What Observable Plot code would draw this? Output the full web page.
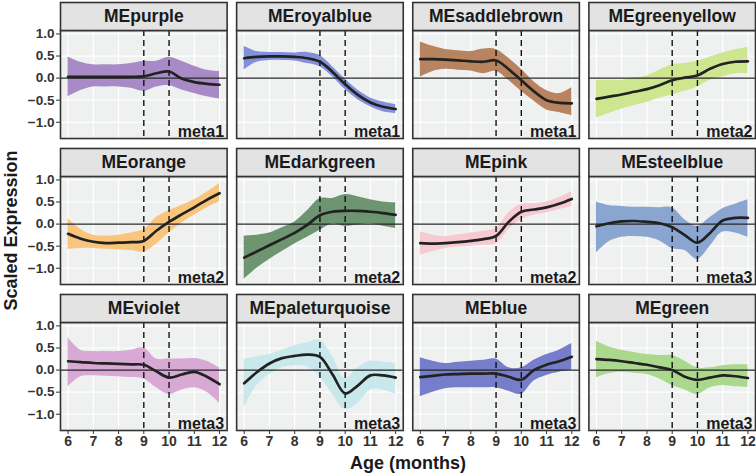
<!DOCTYPE html>
<html>
<head>
<meta charset="utf-8">
<script src="https://cdn.jsdelivr.net/npm/d3@7"></script>
<script src="https://cdn.jsdelivr.net/npm/@observablehq/plot@0.6"></script>
<style>
  html, body { margin: 0; padding: 0; background: #ffffff; }
  #chart svg { display: block; }
</style>
</head>
<body>
<div id="chart"></div>
<script>
// ---------------- data ----------------
const modules = ["MEpurple","MEroyalblue","MEsaddlebrown","MEgreenyellow",
                 "MEorange","MEdarkgreen","MEpink","MEsteelblue",
                 "MEviolet","MEpaleturquoise","MEblue","MEgreen"];
const metas = ["meta1","meta1","meta1","meta2",
               "meta2","meta2","meta2","meta3",
               "meta3","meta3","meta3","meta3"];
const ribbonColors = ["#a88bc6","#8290dc","#b8835f","#cde68f",
                      "#f9c47c","#6e9571","#f6c9d3","#89a5d0",
                      "#d9a9d5","#c8e8ec","#767dca","#aad88d"];
const ages = [6,6.5,7,7.5,8,8.5,9,9.5,10,10.5,11,11.5,12];
const xTicks = [6,7,8,9,10,11,12];
const yTicks = [-1,-0.5,0,0.5,1];
const milestones = [9,10];

const fitValues = [
  [0.03,0.03,0.03,0.03,0.03,0.03,0.04,0.11,0.15,-0.01,-0.09,-0.13,-0.15],
  [0.45,0.48,0.49,0.49,0.48,0.45,0.37,0.14,-0.14,-0.38,-0.55,-0.65,-0.70],
  [0.43,0.43,0.42,0.40,0.38,0.37,0.40,0.20,-0.05,-0.30,-0.50,-0.56,-0.57],
  [-0.47,-0.42,-0.37,-0.31,-0.25,-0.16,-0.05,0.01,0.06,0.21,0.32,0.37,0.38],
  [-0.22,-0.33,-0.40,-0.43,-0.42,-0.41,-0.38,-0.15,0.05,0.22,0.38,0.55,0.70],
  [-0.76,-0.62,-0.48,-0.34,-0.20,-0.02,0.20,0.28,0.30,0.30,0.28,0.25,0.21],
  [-0.43,-0.44,-0.43,-0.41,-0.38,-0.34,-0.27,0.05,0.28,0.33,0.38,0.46,0.57],
  [-0.05,0.02,0.06,0.07,0.05,0.02,-0.07,-0.25,-0.42,-0.20,0.08,0.14,0.14],
  [0.20,0.18,0.16,0.15,0.14,0.13,0.12,-0.03,-0.17,-0.10,-0.04,-0.15,-0.32],
  [-0.30,-0.05,0.15,0.27,0.32,0.35,0.30,-0.10,-0.53,-0.35,-0.12,-0.12,-0.17],
  [-0.16,-0.13,-0.10,-0.09,-0.08,-0.08,-0.08,-0.15,-0.22,0.00,0.12,0.20,0.30],
  [0.25,0.23,0.20,0.16,0.12,0.06,0.00,-0.15,-0.22,-0.17,-0.12,-0.14,-0.18]
];
const lowerValues = [
  [-0.42,-0.28,-0.20,-0.20,-0.20,-0.23,-0.30,-0.20,-0.17,-0.27,-0.35,-0.42,-0.47],
  [0.18,0.36,0.40,0.40,0.39,0.33,0.26,0.03,-0.26,-0.49,-0.65,-0.76,-0.80],
  [0.02,0.15,0.20,0.18,0.16,0.10,0.15,-0.05,-0.30,-0.52,-0.72,-0.78,-0.85],
  [-0.90,-0.80,-0.70,-0.62,-0.55,-0.45,-0.38,-0.30,-0.20,-0.05,0.03,0.10,0.10],
  [-0.57,-0.55,-0.55,-0.57,-0.58,-0.60,-0.63,-0.45,-0.20,0.02,0.20,0.37,0.50],
  [-1.25,-1.00,-0.80,-0.62,-0.45,-0.30,-0.14,0.00,-0.05,-0.02,0.00,-0.05,-0.10],
  [-0.70,-0.62,-0.55,-0.52,-0.50,-0.48,-0.45,-0.12,0.10,0.20,0.25,0.33,0.40],
  [-0.65,-0.40,-0.30,-0.28,-0.30,-0.38,-0.55,-0.60,-0.80,-0.50,-0.18,-0.20,-0.30],
  [-0.38,-0.15,-0.13,-0.14,-0.15,-0.17,-0.20,-0.40,-0.55,-0.45,-0.40,-0.50,-0.75],
  [-0.85,-0.35,-0.10,0.05,0.10,0.07,-0.15,-0.55,-0.90,-0.75,-0.45,-0.45,-0.55],
  [-0.60,-0.50,-0.42,-0.40,-0.40,-0.40,-0.40,-0.48,-0.55,-0.25,-0.12,-0.05,0.00],
  [-0.18,-0.08,-0.05,-0.07,-0.10,-0.20,-0.35,-0.45,-0.55,-0.40,-0.35,-0.38,-0.40]
];
const upperValues = [
  [0.48,0.36,0.30,0.30,0.30,0.33,0.38,0.38,0.47,0.38,0.27,0.18,0.15],
  [0.72,0.60,0.58,0.58,0.57,0.58,0.51,0.26,-0.02,-0.27,-0.45,-0.54,-0.60],
  [0.82,0.72,0.65,0.62,0.60,0.66,0.65,0.45,0.20,-0.08,-0.28,-0.35,-0.22],
  [-0.05,-0.05,-0.05,0.00,0.05,0.18,0.30,0.33,0.38,0.48,0.57,0.64,0.70],
  [0.12,-0.12,-0.25,-0.27,-0.25,-0.20,-0.13,0.15,0.30,0.42,0.55,0.72,0.92],
  [-0.27,-0.25,-0.20,-0.08,0.05,0.30,0.58,0.58,0.67,0.62,0.55,0.50,0.48],
  [-0.18,-0.25,-0.28,-0.24,-0.20,-0.16,-0.10,0.25,0.45,0.46,0.50,0.60,0.74],
  [0.50,0.42,0.40,0.38,0.38,0.37,0.37,0.10,-0.05,0.15,0.35,0.45,0.55],
  [0.73,0.45,0.42,0.42,0.42,0.45,0.50,0.25,0.25,0.25,0.26,0.20,0.05],
  [0.25,0.30,0.35,0.45,0.55,0.62,0.68,0.30,-0.20,0.05,0.20,0.18,0.15],
  [0.28,0.20,0.15,0.18,0.20,0.22,0.25,0.05,0.05,0.22,0.35,0.45,0.60],
  [0.65,0.52,0.45,0.40,0.35,0.33,0.33,0.20,0.05,0.05,0.10,0.12,0.12]
];

// ---------------- tables ----------------
const panels = modules.map((m, i) => ({
  module: m, meta: metas[i], color: ribbonColors[i], col: i % 4, row: Math.floor(i / 4)
}));
const rows = panels.flatMap((p, i) => ages.map((a, j) => ({
  ...p, age: a, fit: fitValues[i][j], lo: lowerValues[i][j], hi: upperValues[i][j]
})));

// ---------------- layout ----------------
const W = 756, H = 474;
const mTop = 30, mBottom = 44, mLeft = 60, mRight = 1;
const fxPad = 0.054, fyPad = 0.26;
const stripH = 28;
const bandH = (H - mTop - mBottom) / (3 - fyPad) * (1 - fyPad);
const bold = "bold";
const ink = "#333333";

const chart = Plot.plot({
  width: W, height: H,
  marginTop: mTop, marginBottom: mBottom, marginLeft: mLeft, marginRight: mRight,
  style: {fontFamily: "'Liberation Sans', Arial, Helvetica, sans-serif", fontSize: "13px", color: ink, background: "#ffffff"},
  x: {domain: [5.7, 12.3]},
  y: {domain: [-1.368, 1.078]},
  fx: {axis: null, paddingInner: fxPad, paddingOuter: 0, round: false},
  fy: {axis: null, paddingInner: fyPad, paddingOuter: 0, round: false},
  color: {type: "identity"},
  marks: [
    Plot.frame({fill: "#eff0f0", stroke: "none"}),
    Plot.gridX({ticks: xTicks, stroke: "#ffffff", strokeOpacity: 1, strokeWidth: 1.2}),
    Plot.gridY({ticks: yTicks, stroke: "#ffffff", strokeOpacity: 1, strokeWidth: 1.2}),
    Plot.areaY(rows, {x: "age", y1: "lo", y2: "hi", fx: "col", fy: "row", z: "module",
      fill: "color", curve: "catmull-rom"}),
    Plot.ruleY([0], {stroke: "#262626", strokeWidth: 1.1}),
    Plot.ruleX(milestones, {stroke: "#111111", strokeWidth: 1.4, strokeDasharray: "6,4"}),
    Plot.lineY(rows, {x: "age", y: "fit", fx: "col", fy: "row", z: "module",
      stroke: "#222222", strokeWidth: 2.7, curve: "catmull-rom"}),
    Plot.text(panels, {fx: "col", fy: "row", text: "meta", frameAnchor: "bottom-right",
      dx: -3, dy: -2, fontSize: 16, fontWeight: bold, fill: "#1a1a1a"}),
    Plot.frame({stroke: ink, strokeWidth: 1.6}),
    Plot.frame({fill: "#e3e3e4", stroke: ink, strokeWidth: 1.6, insetTop: -stripH, insetBottom: bandH}),
    Plot.text(panels, {fx: "col", fy: "row", text: "module", frameAnchor: "top",
      dy: -stripH / 2, lineAnchor: "middle", fontSize: 17.5, fontWeight: bold, fill: "#1a1a1a"}),
    Plot.axisX({ticks: xTicks, tickSize: 4, tickPadding: 2, fontSize: 14, fontWeight: bold,
      stroke: ink, fill: ink, label: null, tickFormat: d => String(d)}),
    Plot.axisY({ticks: yTicks, tickSize: 4, tickPadding: 2, fontSize: 13.5, fontWeight: bold,
      stroke: ink, fill: ink, label: null, tickFormat: d => d.toFixed(1).replace("-", "\u2212")}),
    Plot.text(["Age (months)"], {facet: "super", frameAnchor: "bottom", dy: 33, text: d => d,
      fontSize: 18, fontWeight: bold, fill: "#1a1a1a", lineAnchor: "middle", textAnchor: "middle"}),
    Plot.text(["Scaled Expression"], {facet: "super", frameAnchor: "left", dx: -49, rotate: -90,
      text: d => d, fontSize: 18, fontWeight: bold, fill: "#1a1a1a", lineAnchor: "middle", textAnchor: "middle"})
  ]
});
document.getElementById("chart").appendChild(chart);
</script>
</body>
</html>
